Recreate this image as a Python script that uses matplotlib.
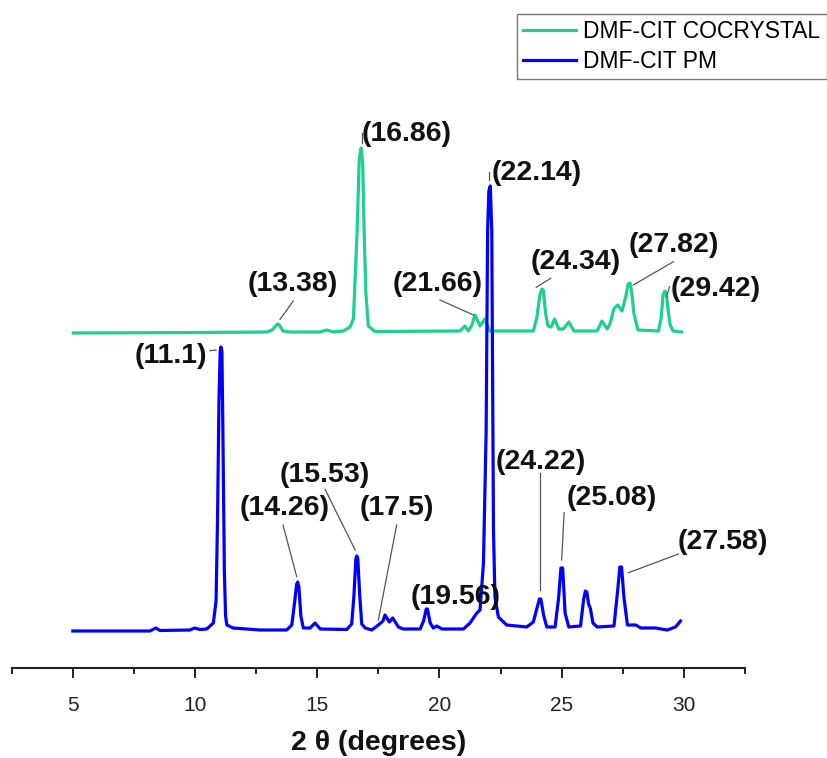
import matplotlib
matplotlib.use("Agg")
import matplotlib.pyplot as plt
from matplotlib.ticker import MultipleLocator

plt.rcParams['font.family'] = ['Liberation Sans', 'DejaVu Sans']

# ---- data (2theta in degrees, intensity in arbitrary units) ----
pm_x = [5.0, 8.16, 8.39, 8.57, 9.79, 9.99, 10.2, 10.48, 10.75, 10.86, 10.92, 10.98, 11.03, 11.06, 11.10,
        11.14, 11.20, 11.25, 11.30, 11.56, 12.66, 13.75, 13.96, 14.08, 14.16, 14.20, 14.25, 14.33, 14.43,
        14.71, 14.91, 15.12, 16.21, 16.41, 16.50, 16.58, 16.62, 16.66, 16.74, 16.82, 16.96, 17.23, 17.50,
        17.69, 17.77, 17.95, 18.09, 18.32, 18.52, 19.21, 19.35, 19.46, 19.51, 19.62, 19.75, 19.89, 20.10,
        20.98, 21.25, 21.53, 21.66, 21.80, 21.91, 21.97, 22.02, 22.08, 22.14, 22.21, 22.27, 22.41, 22.75,
        23.57, 23.84, 23.98, 24.09, 24.15, 24.26, 24.39, 24.73, 24.87, 24.97, 25.04, 25.14, 25.29, 25.77,
        25.90, 25.97, 26.03, 26.10, 26.17, 26.28, 26.45, 27.14, 27.28, 27.38, 27.45, 27.55, 27.69, 28.03,
        28.24, 28.85, 29.06, 29.32, 29.66, 29.86]
pm_i = [0, 0, 3, 0.5, 1, 3, 1.5, 2, 8, 30, 110, 230, 280, 284, 280,
        200, 60, 15, 6, 3, 1, 1, 6, 30, 47, 49, 44, 15, 3,
        3, 8, 2, 1.5, 7, 35, 72, 75, 72, 35, 7, 3, 1, 6,
        10, 16, 9, 13, 4, 2, 2, 10, 22, 22, 8, 3, 5, 2,
        2, 8, 18, 21, 68, 200, 400, 440, 445, 400, 101, 34, 14, 6,
        4, 9, 22, 32, 32, 16, 4, 4, 32, 63, 63, 18, 4, 5,
        32, 40, 39, 27, 23, 8, 4, 5, 38, 64, 64, 33, 6, 6,
        3, 3, 2, 1, 4, 10]

co_x = [5.02, 10.2, 12.93, 13.15, 13.38, 13.45, 13.60, 13.89, 15.11, 15.39, 15.65, 16.07, 16.34, 16.48,
        16.63, 16.72, 16.80, 16.86, 16.92, 16.99, 17.09, 17.36, 20.84, 21.04, 21.18, 21.33, 21.45, 21.57,
        21.66, 21.86, 22.06, 23.84, 23.98, 24.11, 24.19, 24.25, 24.34, 24.44, 24.57, 24.71, 24.88, 25.07,
        25.29, 25.50, 26.45, 26.65, 26.86, 26.99, 27.13, 27.29, 27.47, 27.61, 27.72, 27.80, 27.88, 27.95,
        28.12, 28.96, 29.07, 29.15, 29.22, 29.28, 29.36, 29.44, 29.56, 29.91]
co_i = [0, 0.5, 1, 3, 9, 8, 2, 1, 1, 3, 1, 2, 6, 14,
        100, 175, 185, 170, 100, 40, 7, 1.5, 2, 7, 2, 8, 18, 12,
        7, 14, 2, 2, 15, 38, 44, 43, 20, 7, 6, 14, 4, 4,
        11, 2, 2, 12, 4, 10, 24, 28, 22, 35, 49, 50, 38, 20,
        3, 2, 15, 38, 42, 40, 22, 8, 2, 1]

series_labels = ["DMF-CIT COCRYSTAL", "DMF-CIT PM"]
x_ticks = [5, 10, 15, 20, 25, 30]

# annotations: text, text anchor (x, y), ha, leader line ((x1, y1), (x2, y2)) or None
annotations = [
    ("(16.86)", (16.83, 534), 'left', ((16.82, 535), (16.82, 525))),
    ("(13.38)", (12.17, 384), 'left', ((14.02, 367), (13.48, 348.7))),
    ("(21.66)", (18.10, 384), 'left', ((20.02, 368), (21.39, 353))),
    ("(22.14)", (22.14, 495), 'left', ((22.04, 496), (22.04, 488))),
    ("(24.34)", (23.71, 406), 'left', ((24.55, 389.7), (23.96, 380.7))),
    ("(27.82)", (27.72, 423), 'left', ((29.57, 406.3), (27.93, 383))),
    ("(29.42)", (29.44, 379), 'left', ((29.41, 381.3), (29.30, 371.3))),
    ("(11.1)", (10.49, 312), 'right', ((10.61, 317.3), (10.86, 318))),
    ("(14.26)", (11.84, 160), 'left', ((13.60, 143), (14.16, 91.3))),
    ("(15.53)", (13.48, 193), 'left', ((15.32, 178.7), (16.55, 118))),
    ("(17.5)", (16.75, 160), 'left', ((18.25, 143), (17.50, 48))),
    ("(19.56)", (18.80, 71), 'left', None),
    ("(24.22)", (22.28, 206), 'left', ((24.12, 194.7), (24.12, 78))),
    ("(25.08)", (25.21, 170), 'left', ((25.10, 155.3), (25.00, 108))),
    ("(27.58)", (29.76, 126), 'left', ((29.78, 114), (27.73, 95.3))),
]

# ---- style ----
GREEN = '#1FCF8F'
BLUE = '#0000FF'
PM_OFFSET = 37
CO_OFFSET = 335

fig = plt.figure(figsize=(8.27, 7.58), dpi=100)
ax = fig.add_axes([11.7 / 827, 90 / 758, (745 - 11.7) / 827, 668 / 758])

l_co, = ax.plot(co_x, [v + CO_OFFSET for v in co_i], color=GREEN, lw=2.3, zorder=2,
                solid_joinstyle='round')
l_pm, = ax.plot(pm_x, [v + PM_OFFSET for v in pm_i], color=BLUE, lw=2.3, zorder=3,
                solid_joinstyle='round')

ax.set_xlim(2.5, 32.5)
ax.set_ylim(0, 668)

for s in ['top', 'right', 'left']:
    ax.spines[s].set_visible(False)
ax.spines['bottom'].set_linewidth(1.5)
ax.spines['bottom'].set_color('#222222')
ax.set_yticks([])
ax.set_xticks(x_ticks)
ax.xaxis.set_minor_locator(MultipleLocator(2.5))
ax.tick_params(axis='x', which='major', direction='out', length=7, width=1.4,
               labelsize=15, pad=13, colors='#222222', labelcolor='#222222')
ax.tick_params(axis='x', which='minor', direction='out', length=4, width=1.4, colors='#222222')
ax.set_xlabel("2 θ (degrees)", fontsize=20.5, fontweight='bold', labelpad=11, color='#111111')

for txt, (tx, ty), ha, line in annotations:
    ax.text(tx, ty, txt, ha=ha, va='center', fontsize=20.5, fontweight='bold', color='#111111', zorder=5)
    if line is not None:
        (x1, y1), (x2, y2) = line
        ax.plot([x1, x2], [y1, y2], color='#555555', lw=0.9, zorder=4)

leg = fig.legend([l_co, l_pm], series_labels, loc='upper left',
                 bbox_to_anchor=(517 / 827, 1 - 14 / 758), borderaxespad=0,
                 fontsize=16.5, frameon=True, fancybox=False, edgecolor='#555555',
                 handlelength=2.3, handletextpad=0.3, borderpad=0.28, labelspacing=0.28)
leg.get_frame().set_linewidth(1.0)

fig.savefig("out.png", dpi=100)
